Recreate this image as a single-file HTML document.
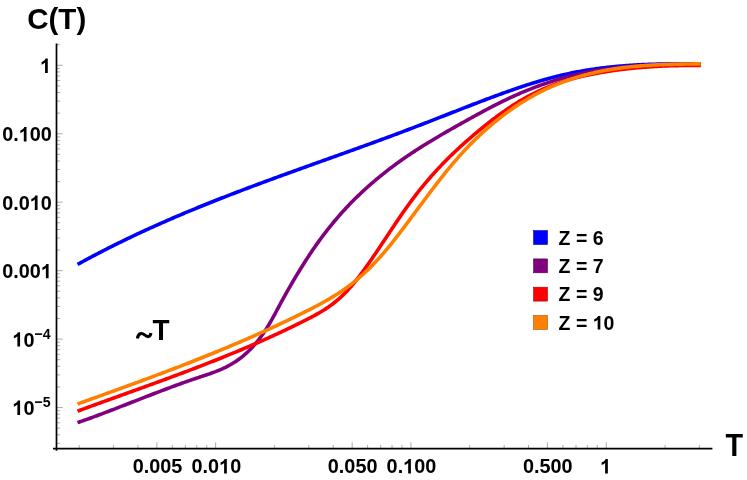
<!DOCTYPE html>
<html><head><meta charset="utf-8"><title>C(T)</title>
<style>
html,body{margin:0;padding:0;background:#fff;}
body{width:747px;height:480px;overflow:hidden;}
svg{display:block;will-change:transform;}
text{font-family:"Liberation Sans",sans-serif;font-weight:bold;fill:#000;}
</style></head><body>
<svg width="747" height="480" viewBox="0 0 747 480">
<rect width="747" height="480" fill="#fff"/>
<g fill="none" stroke-width="3.6" stroke-linejoin="round" stroke-linecap="butt">
<path stroke="#0000ff" d="M77.50 264.45 L78.75 263.77 L80.00 263.08 L81.25 262.40 L82.50 261.72 L83.75 261.04 L84.99 260.37 L86.24 259.69 L87.49 259.02 L88.74 258.35 L89.99 257.69 L91.24 257.02 L92.49 256.36 L93.74 255.70 L94.99 255.05 L96.24 254.39 L97.49 253.74 L98.73 253.09 L99.98 252.44 L101.23 251.80 L102.48 251.15 L103.73 250.51 L104.98 249.87 L106.23 249.24 L107.48 248.60 L108.73 247.97 L109.98 247.34 L111.23 246.71 L112.47 246.09 L113.72 245.46 L114.97 244.84 L116.22 244.22 L117.47 243.60 L118.72 242.99 L119.97 242.37 L121.22 241.76 L122.47 241.15 L123.72 240.54 L124.97 239.94 L126.21 239.34 L127.46 238.73 L128.71 238.13 L129.96 237.54 L131.21 236.94 L132.46 236.35 L133.71 235.75 L134.96 235.16 L136.21 234.58 L137.46 233.99 L138.71 233.40 L139.95 232.82 L141.20 232.24 L142.45 231.66 L143.70 231.08 L144.95 230.51 L146.20 229.93 L147.45 229.36 L148.70 228.79 L149.95 228.22 L151.20 227.66 L152.45 227.09 L153.69 226.53 L154.94 225.97 L156.19 225.41 L157.44 224.85 L158.69 224.29 L159.94 223.74 L161.19 223.18 L162.44 222.63 L163.69 222.08 L164.94 221.53 L166.19 220.99 L167.44 220.44 L168.68 219.90 L169.93 219.35 L171.18 218.81 L172.43 218.27 L173.68 217.74 L174.93 217.20 L176.18 216.66 L177.43 216.13 L178.68 215.60 L179.93 215.07 L181.18 214.54 L182.42 214.01 L183.67 213.49 L184.92 212.96 L186.17 212.44 L187.42 211.92 L188.67 211.39 L189.92 210.88 L191.17 210.36 L192.42 209.84 L193.67 209.33 L194.92 208.81 L196.16 208.30 L197.41 207.79 L198.66 207.28 L199.91 206.77 L201.16 206.26 L202.41 205.75 L203.66 205.25 L204.91 204.74 L206.16 204.24 L207.41 203.74 L208.66 203.24 L209.90 202.74 L211.15 202.24 L212.40 201.74 L213.65 201.25 L214.90 200.75 L216.15 200.26 L217.40 199.76 L218.65 199.27 L219.90 198.78 L221.15 198.29 L222.40 197.80 L223.64 197.32 L224.89 196.83 L226.14 196.34 L227.39 195.86 L228.64 195.37 L229.89 194.89 L231.14 194.41 L232.39 193.93 L233.64 193.45 L234.89 192.97 L236.14 192.49 L237.38 192.01 L238.63 191.54 L239.88 191.06 L241.13 190.59 L242.38 190.11 L243.63 189.64 L244.88 189.17 L246.13 188.70 L247.38 188.22 L248.63 187.75 L249.88 187.28 L251.12 186.82 L252.37 186.35 L253.62 185.88 L254.87 185.42 L256.12 184.95 L257.37 184.48 L258.62 184.02 L259.87 183.56 L261.12 183.09 L262.37 182.63 L263.62 182.17 L264.86 181.71 L266.11 181.25 L267.36 180.79 L268.61 180.33 L269.86 179.87 L271.11 179.41 L272.36 178.95 L273.61 178.50 L274.86 178.04 L276.11 177.58 L277.36 177.13 L278.60 176.67 L279.85 176.22 L281.10 175.76 L282.35 175.31 L283.60 174.85 L284.85 174.40 L286.10 173.95 L287.35 173.50 L288.60 173.04 L289.85 172.59 L291.10 172.14 L292.34 171.69 L293.59 171.24 L294.84 170.79 L296.09 170.34 L297.34 169.89 L298.59 169.44 L299.84 168.99 L301.09 168.54 L302.34 168.09 L303.59 167.64 L304.84 167.20 L306.08 166.75 L307.33 166.30 L308.58 165.85 L309.83 165.40 L311.08 164.96 L312.33 164.51 L313.58 164.06 L314.83 163.61 L316.08 163.17 L317.33 162.72 L318.58 162.27 L319.83 161.83 L321.07 161.38 L322.32 160.93 L323.57 160.49 L324.82 160.04 L326.07 159.59 L327.32 159.15 L328.57 158.70 L329.82 158.25 L331.07 157.81 L332.32 157.36 L333.57 156.91 L334.81 156.47 L336.06 156.02 L337.31 155.57 L338.56 155.13 L339.81 154.68 L341.06 154.23 L342.31 153.78 L343.56 153.34 L344.81 152.89 L346.06 152.44 L347.31 151.99 L348.55 151.54 L349.80 151.09 L351.05 150.64 L352.30 150.19 L353.55 149.75 L354.80 149.30 L356.05 148.85 L357.30 148.39 L358.55 147.94 L359.80 147.49 L361.05 147.04 L362.29 146.59 L363.54 146.14 L364.79 145.68 L366.04 145.23 L367.29 144.78 L368.54 144.32 L369.79 143.87 L371.04 143.42 L372.29 142.96 L373.54 142.50 L374.79 142.05 L376.03 141.59 L377.28 141.14 L378.53 140.68 L379.78 140.22 L381.03 139.76 L382.28 139.30 L383.53 138.84 L384.78 138.38 L386.03 137.92 L387.28 137.46 L388.53 137.00 L389.77 136.53 L391.02 136.07 L392.27 135.61 L393.52 135.14 L394.77 134.68 L396.02 134.21 L397.27 133.74 L398.52 133.28 L399.77 132.81 L401.02 132.34 L402.27 131.87 L403.51 131.40 L404.76 130.93 L406.01 130.46 L407.26 129.98 L408.51 129.51 L409.76 129.04 L411.01 128.56 L412.26 128.08 L413.51 127.61 L414.76 127.13 L416.01 126.65 L417.25 126.17 L418.50 125.69 L419.75 125.21 L421.00 124.73 L422.25 124.25 L423.50 123.76 L424.75 123.28 L426.00 122.79 L427.25 122.31 L428.50 121.82 L429.75 121.34 L430.99 120.85 L432.24 120.36 L433.49 119.88 L434.74 119.39 L435.99 118.90 L437.24 118.41 L438.49 117.92 L439.74 117.43 L440.99 116.94 L442.24 116.46 L443.49 115.97 L444.73 115.48 L445.98 114.99 L447.23 114.50 L448.48 114.01 L449.73 113.52 L450.98 113.03 L452.23 112.54 L453.48 112.05 L454.73 111.56 L455.98 111.07 L457.23 110.59 L458.47 110.10 L459.72 109.61 L460.97 109.12 L462.22 108.64 L463.47 108.15 L464.72 107.67 L465.97 107.18 L467.22 106.70 L468.47 106.21 L469.72 105.73 L470.97 105.25 L472.22 104.76 L473.46 104.28 L474.71 103.80 L475.96 103.32 L477.21 102.84 L478.46 102.37 L479.71 101.89 L480.96 101.41 L482.21 100.94 L483.46 100.46 L484.71 99.99 L485.96 99.52 L487.20 99.05 L488.45 98.58 L489.70 98.11 L490.95 97.64 L492.20 97.18 L493.45 96.71 L494.70 96.25 L495.95 95.79 L497.20 95.33 L498.45 94.87 L499.70 94.41 L500.94 93.96 L502.19 93.51 L503.44 93.06 L504.69 92.61 L505.94 92.16 L507.19 91.71 L508.44 91.27 L509.69 90.83 L510.94 90.39 L512.19 89.95 L513.44 89.52 L514.68 89.09 L515.93 88.66 L517.18 88.23 L518.43 87.81 L519.68 87.38 L520.93 86.96 L522.18 86.55 L523.43 86.13 L524.68 85.72 L525.93 85.32 L527.18 84.91 L528.42 84.51 L529.67 84.11 L530.92 83.72 L532.17 83.33 L533.42 82.94 L534.67 82.55 L535.92 82.17 L537.17 81.79 L538.42 81.42 L539.67 81.05 L540.92 80.68 L542.16 80.32 L543.41 79.96 L544.66 79.60 L545.91 79.25 L547.16 78.90 L548.41 78.56 L549.66 78.22 L550.91 77.88 L552.16 77.55 L553.41 77.23 L554.66 76.90 L555.90 76.59 L557.15 76.27 L558.40 75.96 L559.65 75.66 L560.90 75.36 L562.15 75.06 L563.40 74.78 L564.65 74.49 L565.90 74.21 L567.15 73.93 L568.40 73.66 L569.64 73.40 L570.89 73.13 L572.14 72.88 L573.39 72.62 L574.64 72.38 L575.89 72.13 L577.14 71.89 L578.39 71.66 L579.64 71.43 L580.89 71.20 L582.14 70.98 L583.38 70.76 L584.63 70.55 L585.88 70.34 L587.13 70.13 L588.38 69.93 L589.63 69.74 L590.88 69.54 L592.13 69.35 L593.38 69.17 L594.63 68.99 L595.88 68.81 L597.12 68.64 L598.37 68.47 L599.62 68.30 L600.87 68.14 L602.12 67.98 L603.37 67.83 L604.62 67.68 L605.87 67.53 L607.12 67.38 L608.37 67.24 L609.62 67.11 L610.86 66.97 L612.11 66.84 L613.36 66.72 L614.61 66.60 L615.86 66.48 L617.11 66.36 L618.36 66.25 L619.61 66.14 L620.86 66.03 L622.11 65.92 L623.36 65.82 L624.61 65.73 L625.85 65.63 L627.10 65.54 L628.35 65.45 L629.60 65.37 L630.85 65.28 L632.10 65.20 L633.35 65.13 L634.60 65.05 L635.85 64.98 L637.10 64.91 L638.35 64.85 L639.59 64.78 L640.84 64.72 L642.09 64.66 L643.34 64.61 L644.59 64.56 L645.84 64.50 L647.09 64.46 L648.34 64.41 L649.59 64.37 L650.84 64.33 L652.09 64.29 L653.33 64.25 L654.58 64.22 L655.83 64.18 L657.08 64.15 L658.33 64.13 L659.58 64.10 L660.83 64.08 L662.08 64.05 L663.33 64.03 L664.58 64.02 L665.83 64.00 L667.07 63.99 L668.32 63.97 L669.57 63.96 L670.82 63.96 L672.07 63.95 L673.32 63.94 L674.57 63.94 L675.82 63.94 L677.07 63.94 L678.32 63.94 L679.57 63.94 L680.81 63.94 L682.06 63.95 L683.31 63.96 L684.56 63.97 L685.81 63.98 L687.06 63.99 L688.31 64.00 L689.56 64.01 L690.81 64.03 L692.06 64.04 L693.31 64.06 L694.55 64.08 L695.80 64.10 L697.05 64.12 L698.30 64.14 L699.55 64.16 L700.80 64.18"/>
<path stroke="#800080" d="M77.50 422.67 L78.75 422.24 L80.00 421.80 L81.25 421.36 L82.50 420.92 L83.75 420.48 L84.99 420.04 L86.24 419.59 L87.49 419.14 L88.74 418.69 L89.99 418.23 L91.24 417.78 L92.49 417.32 L93.74 416.86 L94.99 416.40 L96.24 415.94 L97.49 415.48 L98.73 415.01 L99.98 414.54 L101.23 414.07 L102.48 413.60 L103.73 413.13 L104.98 412.66 L106.23 412.19 L107.48 411.71 L108.73 411.23 L109.98 410.76 L111.23 410.28 L112.47 409.80 L113.72 409.32 L114.97 408.84 L116.22 408.35 L117.47 407.87 L118.72 407.39 L119.97 406.90 L121.22 406.42 L122.47 405.93 L123.72 405.45 L124.97 404.96 L126.21 404.47 L127.46 403.99 L128.71 403.50 L129.96 403.01 L131.21 402.52 L132.46 402.04 L133.71 401.55 L134.96 401.06 L136.21 400.57 L137.46 400.08 L138.71 399.60 L139.95 399.11 L141.20 398.62 L142.45 398.13 L143.70 397.65 L144.95 397.16 L146.20 396.68 L147.45 396.19 L148.70 395.71 L149.95 395.22 L151.20 394.74 L152.45 394.26 L153.69 393.77 L154.94 393.29 L156.19 392.81 L157.44 392.33 L158.69 391.86 L159.94 391.38 L161.19 390.90 L162.44 390.43 L163.69 389.96 L164.94 389.48 L166.19 389.01 L167.44 388.54 L168.68 388.08 L169.93 387.61 L171.18 387.15 L172.43 386.68 L173.68 386.22 L174.93 385.76 L176.18 385.30 L177.43 384.85 L178.68 384.39 L179.93 383.94 L181.18 383.49 L182.42 383.04 L183.67 382.60 L184.92 382.15 L186.17 381.71 L187.42 381.27 L188.67 380.84 L189.92 380.40 L191.17 379.97 L192.42 379.54 L193.67 379.11 L194.92 378.69 L196.16 378.27 L197.41 377.85 L198.66 377.43 L199.91 377.02 L201.16 376.60 L202.41 376.19 L203.66 375.78 L204.91 375.37 L206.16 374.95 L207.41 374.54 L208.66 374.11 L209.90 373.68 L211.15 373.24 L212.40 372.80 L213.65 372.34 L214.90 371.88 L216.15 371.40 L217.40 370.91 L218.65 370.40 L219.90 369.88 L221.15 369.34 L222.40 368.79 L223.64 368.22 L224.89 367.62 L226.14 367.01 L227.39 366.37 L228.64 365.71 L229.89 365.03 L231.14 364.31 L232.39 363.58 L233.64 362.81 L234.89 362.02 L236.14 361.19 L237.38 360.33 L238.63 359.44 L239.88 358.52 L241.13 357.56 L242.38 356.57 L243.63 355.54 L244.88 354.47 L246.13 353.36 L247.38 352.21 L248.63 351.01 L249.88 349.78 L251.12 348.50 L252.37 347.17 L253.62 345.79 L254.87 344.37 L256.12 342.90 L257.37 341.38 L258.62 339.80 L259.87 338.17 L261.12 336.48 L262.37 334.74 L263.62 332.94 L264.86 331.08 L266.11 329.16 L267.36 327.18 L268.61 325.14 L269.86 323.03 L271.11 320.86 L272.36 318.64 L273.61 316.38 L274.86 314.09 L276.11 311.77 L277.36 309.43 L278.60 307.10 L279.85 304.76 L281.10 302.45 L282.35 300.15 L283.60 297.87 L284.85 295.62 L286.10 293.39 L287.35 291.17 L288.60 288.98 L289.85 286.80 L291.10 284.65 L292.34 282.51 L293.59 280.38 L294.84 278.28 L296.09 276.19 L297.34 274.11 L298.59 272.05 L299.84 270.01 L301.09 267.98 L302.34 265.97 L303.59 263.97 L304.84 262.00 L306.08 260.04 L307.33 258.11 L308.58 256.19 L309.83 254.30 L311.08 252.43 L312.33 250.57 L313.58 248.75 L314.83 246.94 L316.08 245.15 L317.33 243.39 L318.58 241.65 L319.83 239.92 L321.07 238.22 L322.32 236.54 L323.57 234.88 L324.82 233.23 L326.07 231.61 L327.32 230.01 L328.57 228.42 L329.82 226.85 L331.07 225.31 L332.32 223.78 L333.57 222.26 L334.81 220.77 L336.06 219.29 L337.31 217.83 L338.56 216.39 L339.81 214.96 L341.06 213.55 L342.31 212.16 L343.56 210.78 L344.81 209.42 L346.06 208.07 L347.31 206.74 L348.55 205.42 L349.80 204.12 L351.05 202.83 L352.30 201.56 L353.55 200.30 L354.80 199.05 L356.05 197.82 L357.30 196.60 L358.55 195.39 L359.80 194.20 L361.05 193.01 L362.29 191.84 L363.54 190.68 L364.79 189.54 L366.04 188.40 L367.29 187.28 L368.54 186.16 L369.79 185.06 L371.04 183.97 L372.29 182.88 L373.54 181.81 L374.79 180.75 L376.03 179.69 L377.28 178.65 L378.53 177.61 L379.78 176.59 L381.03 175.57 L382.28 174.56 L383.53 173.57 L384.78 172.58 L386.03 171.60 L387.28 170.62 L388.53 169.66 L389.77 168.70 L391.02 167.76 L392.27 166.82 L393.52 165.88 L394.77 164.96 L396.02 164.04 L397.27 163.14 L398.52 162.23 L399.77 161.34 L401.02 160.45 L402.27 159.57 L403.51 158.70 L404.76 157.83 L406.01 156.97 L407.26 156.12 L408.51 155.27 L409.76 154.43 L411.01 153.59 L412.26 152.77 L413.51 151.94 L414.76 151.12 L416.01 150.31 L417.25 149.50 L418.50 148.70 L419.75 147.90 L421.00 147.11 L422.25 146.33 L423.50 145.54 L424.75 144.77 L426.00 143.99 L427.25 143.22 L428.50 142.46 L429.75 141.70 L430.99 140.94 L432.24 140.19 L433.49 139.44 L434.74 138.69 L435.99 137.95 L437.24 137.21 L438.49 136.47 L439.74 135.74 L440.99 135.01 L442.24 134.28 L443.49 133.56 L444.73 132.84 L445.98 132.12 L447.23 131.40 L448.48 130.68 L449.73 129.97 L450.98 129.25 L452.23 128.54 L453.48 127.84 L454.73 127.13 L455.98 126.42 L457.23 125.72 L458.47 125.01 L459.72 124.31 L460.97 123.61 L462.22 122.90 L463.47 122.20 L464.72 121.50 L465.97 120.81 L467.22 120.11 L468.47 119.41 L469.72 118.72 L470.97 118.02 L472.22 117.33 L473.46 116.64 L474.71 115.96 L475.96 115.27 L477.21 114.59 L478.46 113.91 L479.71 113.23 L480.96 112.55 L482.21 111.88 L483.46 111.21 L484.71 110.54 L485.96 109.88 L487.20 109.22 L488.45 108.56 L489.70 107.91 L490.95 107.25 L492.20 106.61 L493.45 105.96 L494.70 105.32 L495.95 104.69 L497.20 104.06 L498.45 103.43 L499.70 102.80 L500.94 102.19 L502.19 101.57 L503.44 100.96 L504.69 100.36 L505.94 99.76 L507.19 99.16 L508.44 98.57 L509.69 97.98 L510.94 97.40 L512.19 96.83 L513.44 96.26 L514.68 95.70 L515.93 95.14 L517.18 94.59 L518.43 94.04 L519.68 93.50 L520.93 92.96 L522.18 92.43 L523.43 91.90 L524.68 91.38 L525.93 90.86 L527.18 90.35 L528.42 89.85 L529.67 89.35 L530.92 88.85 L532.17 88.36 L533.42 87.88 L534.67 87.40 L535.92 86.93 L537.17 86.46 L538.42 86.00 L539.67 85.54 L540.92 85.09 L542.16 84.65 L543.41 84.21 L544.66 83.77 L545.91 83.34 L547.16 82.92 L548.41 82.50 L549.66 82.09 L550.91 81.68 L552.16 81.28 L553.41 80.88 L554.66 80.49 L555.90 80.10 L557.15 79.72 L558.40 79.35 L559.65 78.98 L560.90 78.61 L562.15 78.26 L563.40 77.90 L564.65 77.56 L565.90 77.22 L567.15 76.88 L568.40 76.55 L569.64 76.22 L570.89 75.90 L572.14 75.59 L573.39 75.28 L574.64 74.98 L575.89 74.68 L577.14 74.39 L578.39 74.10 L579.64 73.82 L580.89 73.55 L582.14 73.28 L583.38 73.01 L584.63 72.75 L585.88 72.50 L587.13 72.25 L588.38 72.01 L589.63 71.77 L590.88 71.54 L592.13 71.31 L593.38 71.08 L594.63 70.86 L595.88 70.65 L597.12 70.44 L598.37 70.23 L599.62 70.03 L600.87 69.84 L602.12 69.64 L603.37 69.46 L604.62 69.27 L605.87 69.10 L607.12 68.92 L608.37 68.75 L609.62 68.58 L610.86 68.42 L612.11 68.26 L613.36 68.11 L614.61 67.96 L615.86 67.81 L617.11 67.67 L618.36 67.53 L619.61 67.40 L620.86 67.27 L622.11 67.14 L623.36 67.01 L624.61 66.89 L625.85 66.78 L627.10 66.66 L628.35 66.55 L629.60 66.44 L630.85 66.34 L632.10 66.24 L633.35 66.14 L634.60 66.04 L635.85 65.95 L637.10 65.86 L638.35 65.77 L639.59 65.69 L640.84 65.61 L642.09 65.53 L643.34 65.45 L644.59 65.38 L645.84 65.31 L647.09 65.24 L648.34 65.18 L649.59 65.11 L650.84 65.05 L652.09 64.99 L653.33 64.93 L654.58 64.88 L655.83 64.83 L657.08 64.78 L658.33 64.73 L659.58 64.68 L660.83 64.63 L662.08 64.59 L663.33 64.55 L664.58 64.51 L665.83 64.47 L667.07 64.43 L668.32 64.40 L669.57 64.36 L670.82 64.33 L672.07 64.30 L673.32 64.27 L674.57 64.24 L675.82 64.21 L677.07 64.19 L678.32 64.16 L679.57 64.14 L680.81 64.11 L682.06 64.09 L683.31 64.07 L684.56 64.05 L685.81 64.03 L687.06 64.01 L688.31 63.99 L689.56 63.97 L690.81 63.95 L692.06 63.93 L693.31 63.91 L694.55 63.90 L695.80 63.88 L697.05 63.86 L698.30 63.85 L699.55 63.83 L700.80 63.81"/>
<path stroke="#ff0000" d="M77.50 411.15 L78.75 410.69 L80.00 410.23 L81.25 409.78 L82.50 409.32 L83.75 408.86 L84.99 408.40 L86.24 407.95 L87.49 407.49 L88.74 407.03 L89.99 406.58 L91.24 406.12 L92.49 405.67 L93.74 405.21 L94.99 404.76 L96.24 404.31 L97.49 403.85 L98.73 403.40 L99.98 402.95 L101.23 402.50 L102.48 402.05 L103.73 401.59 L104.98 401.14 L106.23 400.69 L107.48 400.24 L108.73 399.79 L109.98 399.34 L111.23 398.89 L112.47 398.44 L113.72 397.99 L114.97 397.54 L116.22 397.09 L117.47 396.64 L118.72 396.19 L119.97 395.74 L121.22 395.29 L122.47 394.84 L123.72 394.39 L124.97 393.95 L126.21 393.50 L127.46 393.05 L128.71 392.60 L129.96 392.15 L131.21 391.70 L132.46 391.25 L133.71 390.80 L134.96 390.35 L136.21 389.90 L137.46 389.45 L138.71 389.00 L139.95 388.55 L141.20 388.09 L142.45 387.64 L143.70 387.19 L144.95 386.74 L146.20 386.29 L147.45 385.84 L148.70 385.38 L149.95 384.93 L151.20 384.48 L152.45 384.02 L153.69 383.57 L154.94 383.11 L156.19 382.66 L157.44 382.20 L158.69 381.75 L159.94 381.29 L161.19 380.83 L162.44 380.37 L163.69 379.92 L164.94 379.46 L166.19 379.00 L167.44 378.54 L168.68 378.08 L169.93 377.62 L171.18 377.16 L172.43 376.69 L173.68 376.23 L174.93 375.77 L176.18 375.30 L177.43 374.84 L178.68 374.37 L179.93 373.90 L181.18 373.44 L182.42 372.97 L183.67 372.50 L184.92 372.03 L186.17 371.56 L187.42 371.09 L188.67 370.62 L189.92 370.14 L191.17 369.67 L192.42 369.19 L193.67 368.72 L194.92 368.24 L196.16 367.76 L197.41 367.28 L198.66 366.80 L199.91 366.32 L201.16 365.84 L202.41 365.36 L203.66 364.87 L204.91 364.39 L206.16 363.90 L207.41 363.41 L208.66 362.92 L209.90 362.43 L211.15 361.94 L212.40 361.45 L213.65 360.96 L214.90 360.46 L216.15 359.97 L217.40 359.47 L218.65 358.97 L219.90 358.47 L221.15 357.97 L222.40 357.47 L223.64 356.96 L224.89 356.46 L226.14 355.95 L227.39 355.44 L228.64 354.93 L229.89 354.42 L231.14 353.91 L232.39 353.40 L233.64 352.88 L234.89 352.37 L236.14 351.85 L237.38 351.33 L238.63 350.81 L239.88 350.28 L241.13 349.76 L242.38 349.23 L243.63 348.70 L244.88 348.18 L246.13 347.64 L247.38 347.11 L248.63 346.58 L249.88 346.04 L251.12 345.50 L252.37 344.96 L253.62 344.42 L254.87 343.88 L256.12 343.33 L257.37 342.79 L258.62 342.24 L259.87 341.69 L261.12 341.14 L262.37 340.58 L263.62 340.03 L264.86 339.47 L266.11 338.91 L267.36 338.35 L268.61 337.78 L269.86 337.22 L271.11 336.65 L272.36 336.08 L273.61 335.51 L274.86 334.94 L276.11 334.36 L277.36 333.78 L278.60 333.20 L279.85 332.62 L281.10 332.04 L282.35 331.45 L283.60 330.86 L284.85 330.27 L286.10 329.68 L287.35 329.08 L288.60 328.49 L289.85 327.89 L291.10 327.28 L292.34 326.68 L293.59 326.07 L294.84 325.47 L296.09 324.85 L297.34 324.24 L298.59 323.63 L299.84 323.01 L301.09 322.39 L302.34 321.76 L303.59 321.14 L304.84 320.51 L306.08 319.88 L307.33 319.25 L308.58 318.61 L309.83 317.97 L311.08 317.32 L312.33 316.66 L313.58 316.00 L314.83 315.32 L316.08 314.64 L317.33 313.94 L318.58 313.23 L319.83 312.50 L321.07 311.76 L322.32 311.00 L323.57 310.23 L324.82 309.44 L326.07 308.62 L327.32 307.79 L328.57 306.93 L329.82 306.05 L331.07 305.15 L332.32 304.22 L333.57 303.27 L334.81 302.28 L336.06 301.27 L337.31 300.23 L338.56 299.15 L339.81 298.05 L341.06 296.91 L342.31 295.74 L343.56 294.53 L344.81 293.28 L346.06 292.00 L347.31 290.68 L348.55 289.32 L349.80 287.92 L351.05 286.49 L352.30 285.02 L353.55 283.52 L354.80 282.00 L356.05 280.44 L357.30 278.85 L358.55 277.24 L359.80 275.60 L361.05 273.94 L362.29 272.26 L363.54 270.55 L364.79 268.83 L366.04 267.09 L367.29 265.34 L368.54 263.56 L369.79 261.78 L371.04 259.98 L372.29 258.17 L373.54 256.34 L374.79 254.51 L376.03 252.67 L377.28 250.82 L378.53 248.96 L379.78 247.09 L381.03 245.22 L382.28 243.35 L383.53 241.47 L384.78 239.59 L386.03 237.71 L387.28 235.83 L388.53 233.95 L389.77 232.07 L391.02 230.19 L392.27 228.32 L393.52 226.45 L394.77 224.58 L396.02 222.73 L397.27 220.88 L398.52 219.04 L399.77 217.21 L401.02 215.39 L402.27 213.58 L403.51 211.78 L404.76 210.00 L406.01 208.23 L407.26 206.48 L408.51 204.74 L409.76 203.02 L411.01 201.32 L412.26 199.64 L413.51 197.98 L414.76 196.33 L416.01 194.71 L417.25 193.10 L418.50 191.51 L419.75 189.94 L421.00 188.38 L422.25 186.85 L423.50 185.33 L424.75 183.82 L426.00 182.33 L427.25 180.86 L428.50 179.40 L429.75 177.96 L430.99 176.53 L432.24 175.12 L433.49 173.72 L434.74 172.34 L435.99 170.97 L437.24 169.62 L438.49 168.28 L439.74 166.95 L440.99 165.63 L442.24 164.33 L443.49 163.04 L444.73 161.77 L445.98 160.50 L447.23 159.25 L448.48 158.01 L449.73 156.77 L450.98 155.55 L452.23 154.35 L453.48 153.15 L454.73 151.96 L455.98 150.78 L457.23 149.61 L458.47 148.45 L459.72 147.30 L460.97 146.16 L462.22 145.03 L463.47 143.90 L464.72 142.79 L465.97 141.68 L467.22 140.58 L468.47 139.49 L469.72 138.40 L470.97 137.32 L472.22 136.25 L473.46 135.18 L474.71 134.12 L475.96 133.07 L477.21 132.02 L478.46 130.98 L479.71 129.94 L480.96 128.92 L482.21 127.90 L483.46 126.88 L484.71 125.88 L485.96 124.88 L487.20 123.89 L488.45 122.90 L489.70 121.93 L490.95 120.96 L492.20 120.00 L493.45 119.05 L494.70 118.10 L495.95 117.17 L497.20 116.24 L498.45 115.32 L499.70 114.41 L500.94 113.51 L502.19 112.62 L503.44 111.74 L504.69 110.87 L505.94 110.00 L507.19 109.15 L508.44 108.30 L509.69 107.47 L510.94 106.64 L512.19 105.83 L513.44 105.02 L514.68 104.23 L515.93 103.45 L517.18 102.67 L518.43 101.91 L519.68 101.16 L520.93 100.41 L522.18 99.68 L523.43 98.97 L524.68 98.26 L525.93 97.56 L527.18 96.88 L528.42 96.20 L529.67 95.54 L530.92 94.89 L532.17 94.25 L533.42 93.62 L534.67 93.00 L535.92 92.39 L537.17 91.80 L538.42 91.21 L539.67 90.63 L540.92 90.07 L542.16 89.51 L543.41 88.97 L544.66 88.43 L545.91 87.90 L547.16 87.39 L548.41 86.88 L549.66 86.38 L550.91 85.89 L552.16 85.41 L553.41 84.94 L554.66 84.48 L555.90 84.03 L557.15 83.58 L558.40 83.15 L559.65 82.72 L560.90 82.30 L562.15 81.89 L563.40 81.49 L564.65 81.09 L565.90 80.70 L567.15 80.32 L568.40 79.95 L569.64 79.59 L570.89 79.23 L572.14 78.88 L573.39 78.54 L574.64 78.20 L575.89 77.87 L577.14 77.55 L578.39 77.23 L579.64 76.93 L580.89 76.62 L582.14 76.33 L583.38 76.04 L584.63 75.75 L585.88 75.47 L587.13 75.20 L588.38 74.93 L589.63 74.67 L590.88 74.41 L592.13 74.16 L593.38 73.91 L594.63 73.67 L595.88 73.44 L597.12 73.21 L598.37 72.98 L599.62 72.76 L600.87 72.54 L602.12 72.32 L603.37 72.12 L604.62 71.91 L605.87 71.71 L607.12 71.51 L608.37 71.32 L609.62 71.13 L610.86 70.94 L612.11 70.76 L613.36 70.58 L614.61 70.40 L615.86 70.23 L617.11 70.06 L618.36 69.89 L619.61 69.73 L620.86 69.57 L622.11 69.42 L623.36 69.27 L624.61 69.12 L625.85 68.98 L627.10 68.83 L628.35 68.70 L629.60 68.56 L630.85 68.43 L632.10 68.30 L633.35 68.17 L634.60 68.05 L635.85 67.93 L637.10 67.82 L638.35 67.71 L639.59 67.60 L640.84 67.49 L642.09 67.39 L643.34 67.28 L644.59 67.19 L645.84 67.09 L647.09 67.00 L648.34 66.91 L649.59 66.83 L650.84 66.74 L652.09 66.66 L653.33 66.59 L654.58 66.51 L655.83 66.44 L657.08 66.37 L658.33 66.30 L659.58 66.24 L660.83 66.18 L662.08 66.12 L663.33 66.06 L664.58 66.01 L665.83 65.96 L667.07 65.91 L668.32 65.86 L669.57 65.82 L670.82 65.78 L672.07 65.74 L673.32 65.71 L674.57 65.67 L675.82 65.64 L677.07 65.61 L678.32 65.58 L679.57 65.56 L680.81 65.54 L682.06 65.52 L683.31 65.50 L684.56 65.48 L685.81 65.47 L687.06 65.46 L688.31 65.45 L689.56 65.44 L690.81 65.44 L692.06 65.44 L693.31 65.43 L694.55 65.43 L695.80 65.44 L697.05 65.44 L698.30 65.45 L699.55 65.46 L700.80 65.47"/>
<path stroke="#ff8000" d="M77.50 404.00 L78.75 403.55 L80.00 403.10 L81.25 402.65 L82.50 402.20 L83.75 401.75 L84.99 401.31 L86.24 400.86 L87.49 400.41 L88.74 399.96 L89.99 399.51 L91.24 399.06 L92.49 398.61 L93.74 398.17 L94.99 397.72 L96.24 397.27 L97.49 396.82 L98.73 396.37 L99.98 395.92 L101.23 395.47 L102.48 395.02 L103.73 394.57 L104.98 394.12 L106.23 393.67 L107.48 393.22 L108.73 392.77 L109.98 392.32 L111.23 391.87 L112.47 391.42 L113.72 390.96 L114.97 390.51 L116.22 390.06 L117.47 389.61 L118.72 389.15 L119.97 388.70 L121.22 388.25 L122.47 387.79 L123.72 387.34 L124.97 386.89 L126.21 386.43 L127.46 385.98 L128.71 385.52 L129.96 385.06 L131.21 384.61 L132.46 384.15 L133.71 383.69 L134.96 383.23 L136.21 382.78 L137.46 382.32 L138.71 381.86 L139.95 381.40 L141.20 380.94 L142.45 380.48 L143.70 380.02 L144.95 379.55 L146.20 379.09 L147.45 378.63 L148.70 378.16 L149.95 377.70 L151.20 377.24 L152.45 376.77 L153.69 376.30 L154.94 375.84 L156.19 375.37 L157.44 374.90 L158.69 374.43 L159.94 373.96 L161.19 373.49 L162.44 373.02 L163.69 372.55 L164.94 372.08 L166.19 371.61 L167.44 371.13 L168.68 370.66 L169.93 370.18 L171.18 369.71 L172.43 369.23 L173.68 368.75 L174.93 368.28 L176.18 367.80 L177.43 367.32 L178.68 366.84 L179.93 366.36 L181.18 365.87 L182.42 365.39 L183.67 364.91 L184.92 364.42 L186.17 363.93 L187.42 363.45 L188.67 362.96 L189.92 362.47 L191.17 361.98 L192.42 361.49 L193.67 361.00 L194.92 360.51 L196.16 360.01 L197.41 359.52 L198.66 359.02 L199.91 358.52 L201.16 358.03 L202.41 357.53 L203.66 357.03 L204.91 356.53 L206.16 356.03 L207.41 355.52 L208.66 355.02 L209.90 354.51 L211.15 354.01 L212.40 353.50 L213.65 352.99 L214.90 352.48 L216.15 351.97 L217.40 351.46 L218.65 350.94 L219.90 350.43 L221.15 349.91 L222.40 349.39 L223.64 348.88 L224.89 348.36 L226.14 347.84 L227.39 347.31 L228.64 346.79 L229.89 346.26 L231.14 345.74 L232.39 345.21 L233.64 344.68 L234.89 344.15 L236.14 343.62 L237.38 343.09 L238.63 342.55 L239.88 342.02 L241.13 341.48 L242.38 340.94 L243.63 340.40 L244.88 339.86 L246.13 339.32 L247.38 338.78 L248.63 338.23 L249.88 337.68 L251.12 337.13 L252.37 336.58 L253.62 336.03 L254.87 335.48 L256.12 334.92 L257.37 334.37 L258.62 333.81 L259.87 333.25 L261.12 332.69 L262.37 332.13 L263.62 331.56 L264.86 331.00 L266.11 330.43 L267.36 329.86 L268.61 329.29 L269.86 328.72 L271.11 328.15 L272.36 327.57 L273.61 326.99 L274.86 326.41 L276.11 325.83 L277.36 325.25 L278.60 324.67 L279.85 324.08 L281.10 323.49 L282.35 322.90 L283.60 322.31 L284.85 321.72 L286.10 321.13 L287.35 320.53 L288.60 319.93 L289.85 319.33 L291.10 318.73 L292.34 318.12 L293.59 317.52 L294.84 316.91 L296.09 316.30 L297.34 315.69 L298.59 315.08 L299.84 314.46 L301.09 313.84 L302.34 313.23 L303.59 312.60 L304.84 311.98 L306.08 311.36 L307.33 310.73 L308.58 310.10 L309.83 309.47 L311.08 308.83 L312.33 308.19 L313.58 307.55 L314.83 306.90 L316.08 306.25 L317.33 305.59 L318.58 304.92 L319.83 304.25 L321.07 303.57 L322.32 302.89 L323.57 302.20 L324.82 301.50 L326.07 300.79 L327.32 300.08 L328.57 299.35 L329.82 298.62 L331.07 297.88 L332.32 297.12 L333.57 296.36 L334.81 295.58 L336.06 294.80 L337.31 294.00 L338.56 293.19 L339.81 292.37 L341.06 291.53 L342.31 290.68 L343.56 289.82 L344.81 288.95 L346.06 288.06 L347.31 287.15 L348.55 286.23 L349.80 285.29 L351.05 284.34 L352.30 283.37 L353.55 282.39 L354.80 281.39 L356.05 280.37 L357.30 279.33 L358.55 278.27 L359.80 277.20 L361.05 276.10 L362.29 274.99 L363.54 273.86 L364.79 272.70 L366.04 271.53 L367.29 270.34 L368.54 269.13 L369.79 267.90 L371.04 266.65 L372.29 265.38 L373.54 264.09 L374.79 262.78 L376.03 261.45 L377.28 260.11 L378.53 258.74 L379.78 257.36 L381.03 255.95 L382.28 254.53 L383.53 253.09 L384.78 251.63 L386.03 250.15 L387.28 248.65 L388.53 247.14 L389.77 245.61 L391.02 244.07 L392.27 242.51 L393.52 240.94 L394.77 239.36 L396.02 237.76 L397.27 236.16 L398.52 234.54 L399.77 232.92 L401.02 231.28 L402.27 229.64 L403.51 227.99 L404.76 226.33 L406.01 224.67 L407.26 223.00 L408.51 221.33 L409.76 219.65 L411.01 217.97 L412.26 216.29 L413.51 214.61 L414.76 212.92 L416.01 211.24 L417.25 209.55 L418.50 207.87 L419.75 206.19 L421.00 204.51 L422.25 202.83 L423.50 201.15 L424.75 199.48 L426.00 197.81 L427.25 196.14 L428.50 194.48 L429.75 192.82 L430.99 191.17 L432.24 189.53 L433.49 187.89 L434.74 186.26 L435.99 184.63 L437.24 183.01 L438.49 181.40 L439.74 179.80 L440.99 178.21 L442.24 176.63 L443.49 175.06 L444.73 173.49 L445.98 171.94 L447.23 170.40 L448.48 168.88 L449.73 167.36 L450.98 165.86 L452.23 164.37 L453.48 162.89 L454.73 161.43 L455.98 159.99 L457.23 158.56 L458.47 157.14 L459.72 155.74 L460.97 154.35 L462.22 152.98 L463.47 151.62 L464.72 150.28 L465.97 148.95 L467.22 147.64 L468.47 146.34 L469.72 145.05 L470.97 143.78 L472.22 142.52 L473.46 141.28 L474.71 140.05 L475.96 138.83 L477.21 137.63 L478.46 136.43 L479.71 135.25 L480.96 134.09 L482.21 132.94 L483.46 131.80 L484.71 130.67 L485.96 129.55 L487.20 128.45 L488.45 127.36 L489.70 126.28 L490.95 125.21 L492.20 124.15 L493.45 123.11 L494.70 122.08 L495.95 121.06 L497.20 120.05 L498.45 119.05 L499.70 118.06 L500.94 117.09 L502.19 116.12 L503.44 115.17 L504.69 114.23 L505.94 113.30 L507.19 112.38 L508.44 111.47 L509.69 110.58 L510.94 109.69 L512.19 108.82 L513.44 107.96 L514.68 107.10 L515.93 106.26 L517.18 105.43 L518.43 104.61 L519.68 103.81 L520.93 103.01 L522.18 102.22 L523.43 101.45 L524.68 100.68 L525.93 99.93 L527.18 99.18 L528.42 98.45 L529.67 97.73 L530.92 97.01 L532.17 96.31 L533.42 95.62 L534.67 94.94 L535.92 94.26 L537.17 93.60 L538.42 92.95 L539.67 92.31 L540.92 91.68 L542.16 91.05 L543.41 90.44 L544.66 89.84 L545.91 89.24 L547.16 88.66 L548.41 88.08 L549.66 87.51 L550.91 86.96 L552.16 86.41 L553.41 85.87 L554.66 85.34 L555.90 84.82 L557.15 84.31 L558.40 83.80 L559.65 83.31 L560.90 82.82 L562.15 82.34 L563.40 81.87 L564.65 81.41 L565.90 80.96 L567.15 80.51 L568.40 80.07 L569.64 79.64 L570.89 79.22 L572.14 78.81 L573.39 78.40 L574.64 78.01 L575.89 77.62 L577.14 77.23 L578.39 76.86 L579.64 76.49 L580.89 76.13 L582.14 75.77 L583.38 75.43 L584.63 75.09 L585.88 74.76 L587.13 74.43 L588.38 74.11 L589.63 73.80 L590.88 73.50 L592.13 73.20 L593.38 72.91 L594.63 72.62 L595.88 72.34 L597.12 72.07 L598.37 71.80 L599.62 71.54 L600.87 71.29 L602.12 71.04 L603.37 70.80 L604.62 70.56 L605.87 70.33 L607.12 70.10 L608.37 69.88 L609.62 69.67 L610.86 69.46 L612.11 69.26 L613.36 69.06 L614.61 68.87 L615.86 68.68 L617.11 68.50 L618.36 68.32 L619.61 68.15 L620.86 67.98 L622.11 67.82 L623.36 67.66 L624.61 67.51 L625.85 67.36 L627.10 67.21 L628.35 67.07 L629.60 66.94 L630.85 66.80 L632.10 66.68 L633.35 66.55 L634.60 66.43 L635.85 66.32 L637.10 66.21 L638.35 66.10 L639.59 65.99 L640.84 65.89 L642.09 65.80 L643.34 65.70 L644.59 65.61 L645.84 65.53 L647.09 65.44 L648.34 65.36 L649.59 65.28 L650.84 65.21 L652.09 65.14 L653.33 65.07 L654.58 65.00 L655.83 64.94 L657.08 64.88 L658.33 64.82 L659.58 64.77 L660.83 64.71 L662.08 64.66 L663.33 64.61 L664.58 64.57 L665.83 64.52 L667.07 64.48 L668.32 64.44 L669.57 64.40 L670.82 64.37 L672.07 64.33 L673.32 64.30 L674.57 64.27 L675.82 64.24 L677.07 64.21 L678.32 64.18 L679.57 64.15 L680.81 64.13 L682.06 64.10 L683.31 64.08 L684.56 64.06 L685.81 64.04 L687.06 64.01 L688.31 63.99 L689.56 63.98 L690.81 63.96 L692.06 63.94 L693.31 63.92 L694.55 63.90 L695.80 63.88 L697.05 63.87 L698.30 63.85 L699.55 63.83 L700.80 63.82"/>
</g>
<g stroke="#000" stroke-width="0.45" stroke-opacity="0.75">
<line x1="79.14" y1="448.55" x2="79.14" y2="444.95"/>
<line x1="113.53" y1="448.55" x2="113.53" y2="444.95"/>
<line x1="137.93" y1="448.55" x2="137.93" y2="444.95"/>
<line x1="156.86" y1="448.55" x2="156.86" y2="442.25"/>
<line x1="172.32" y1="448.55" x2="172.32" y2="444.95"/>
<line x1="185.40" y1="448.55" x2="185.40" y2="444.95"/>
<line x1="196.72" y1="448.55" x2="196.72" y2="444.95"/>
<line x1="206.71" y1="448.55" x2="206.71" y2="444.95"/>
<line x1="215.65" y1="448.55" x2="215.65" y2="442.25"/>
<line x1="274.44" y1="448.55" x2="274.44" y2="444.95"/>
<line x1="308.83" y1="448.55" x2="308.83" y2="444.95"/>
<line x1="333.23" y1="448.55" x2="333.23" y2="444.95"/>
<line x1="352.16" y1="448.55" x2="352.16" y2="442.25"/>
<line x1="367.62" y1="448.55" x2="367.62" y2="444.95"/>
<line x1="380.70" y1="448.55" x2="380.70" y2="444.95"/>
<line x1="392.02" y1="448.55" x2="392.02" y2="444.95"/>
<line x1="402.01" y1="448.55" x2="402.01" y2="444.95"/>
<line x1="410.95" y1="448.55" x2="410.95" y2="442.25"/>
<line x1="469.74" y1="448.55" x2="469.74" y2="444.95"/>
<line x1="504.13" y1="448.55" x2="504.13" y2="444.95"/>
<line x1="528.53" y1="448.55" x2="528.53" y2="444.95"/>
<line x1="547.46" y1="448.55" x2="547.46" y2="442.25"/>
<line x1="562.92" y1="448.55" x2="562.92" y2="444.95"/>
<line x1="576.00" y1="448.55" x2="576.00" y2="444.95"/>
<line x1="587.32" y1="448.55" x2="587.32" y2="444.95"/>
<line x1="597.31" y1="448.55" x2="597.31" y2="444.95"/>
<line x1="606.25" y1="448.55" x2="606.25" y2="442.25"/>
<line x1="665.04" y1="448.55" x2="665.04" y2="444.95"/>
<line x1="699.43" y1="448.55" x2="699.43" y2="444.95"/>
<line x1="56.50" y1="443.34" x2="60.10" y2="443.34"/>
<line x1="56.50" y1="434.79" x2="60.10" y2="434.79"/>
<line x1="56.50" y1="428.16" x2="60.10" y2="428.16"/>
<line x1="56.50" y1="422.74" x2="60.10" y2="422.74"/>
<line x1="56.50" y1="418.15" x2="60.10" y2="418.15"/>
<line x1="56.50" y1="414.18" x2="60.10" y2="414.18"/>
<line x1="56.50" y1="410.68" x2="60.10" y2="410.68"/>
<line x1="56.50" y1="407.55" x2="62.80" y2="407.55"/>
<line x1="56.50" y1="386.94" x2="60.10" y2="386.94"/>
<line x1="56.50" y1="374.89" x2="60.10" y2="374.89"/>
<line x1="56.50" y1="366.34" x2="60.10" y2="366.34"/>
<line x1="56.50" y1="359.71" x2="60.10" y2="359.71"/>
<line x1="56.50" y1="354.29" x2="60.10" y2="354.29"/>
<line x1="56.50" y1="349.70" x2="60.10" y2="349.70"/>
<line x1="56.50" y1="345.73" x2="60.10" y2="345.73"/>
<line x1="56.50" y1="342.23" x2="60.10" y2="342.23"/>
<line x1="56.50" y1="339.10" x2="62.80" y2="339.10"/>
<line x1="56.50" y1="318.49" x2="60.10" y2="318.49"/>
<line x1="56.50" y1="306.44" x2="60.10" y2="306.44"/>
<line x1="56.50" y1="297.89" x2="60.10" y2="297.89"/>
<line x1="56.50" y1="291.26" x2="60.10" y2="291.26"/>
<line x1="56.50" y1="285.84" x2="60.10" y2="285.84"/>
<line x1="56.50" y1="281.25" x2="60.10" y2="281.25"/>
<line x1="56.50" y1="277.28" x2="60.10" y2="277.28"/>
<line x1="56.50" y1="273.78" x2="60.10" y2="273.78"/>
<line x1="56.50" y1="270.65" x2="62.80" y2="270.65"/>
<line x1="56.50" y1="250.04" x2="60.10" y2="250.04"/>
<line x1="56.50" y1="237.99" x2="60.10" y2="237.99"/>
<line x1="56.50" y1="229.44" x2="60.10" y2="229.44"/>
<line x1="56.50" y1="222.81" x2="60.10" y2="222.81"/>
<line x1="56.50" y1="217.39" x2="60.10" y2="217.39"/>
<line x1="56.50" y1="212.80" x2="60.10" y2="212.80"/>
<line x1="56.50" y1="208.83" x2="60.10" y2="208.83"/>
<line x1="56.50" y1="205.33" x2="60.10" y2="205.33"/>
<line x1="56.50" y1="202.20" x2="62.80" y2="202.20"/>
<line x1="56.50" y1="181.59" x2="60.10" y2="181.59"/>
<line x1="56.50" y1="169.54" x2="60.10" y2="169.54"/>
<line x1="56.50" y1="160.99" x2="60.10" y2="160.99"/>
<line x1="56.50" y1="154.36" x2="60.10" y2="154.36"/>
<line x1="56.50" y1="148.94" x2="60.10" y2="148.94"/>
<line x1="56.50" y1="144.35" x2="60.10" y2="144.35"/>
<line x1="56.50" y1="140.38" x2="60.10" y2="140.38"/>
<line x1="56.50" y1="136.88" x2="60.10" y2="136.88"/>
<line x1="56.50" y1="133.75" x2="62.80" y2="133.75"/>
<line x1="56.50" y1="113.14" x2="60.10" y2="113.14"/>
<line x1="56.50" y1="101.09" x2="60.10" y2="101.09"/>
<line x1="56.50" y1="92.54" x2="60.10" y2="92.54"/>
<line x1="56.50" y1="85.91" x2="60.10" y2="85.91"/>
<line x1="56.50" y1="80.49" x2="60.10" y2="80.49"/>
<line x1="56.50" y1="75.90" x2="60.10" y2="75.90"/>
<line x1="56.50" y1="71.93" x2="60.10" y2="71.93"/>
<line x1="56.50" y1="68.43" x2="60.10" y2="68.43"/>
<line x1="56.50" y1="65.30" x2="62.80" y2="65.30"/>
<line x1="56.50" y1="44.69" x2="60.10" y2="44.69"/>
</g>
<g stroke="#000" stroke-width="1.7">
<line x1="56.5" y1="450.65000000000003" x2="56.5" y2="43.6"/>
<line x1="53.0" y1="448.55" x2="712.4" y2="448.55"/>
</g>
<text transform="translate(132.63 473.40) scale(0.945 1)" text-anchor="start" font-size="21">0.005</text>
<text transform="translate(191.52 473.40) scale(0.945 1)" text-anchor="start" font-size="21">0.0</text>
<path transform="translate(219.11 473.40) scale(0.00969 -0.00986)" d="M797 0H516V1059Q362 915 153 846V1101Q263 1137 392 1237.5Q521 1338 569 1466H797Z" fill="#000"/>
<text transform="translate(230.14 473.40) scale(0.945 1)" text-anchor="start" font-size="21">0</text>
<text transform="translate(327.83 473.40) scale(0.945 1)" text-anchor="start" font-size="21">0.050</text>
<text transform="translate(386.62 473.40) scale(0.945 1)" text-anchor="start" font-size="21">0.</text>
<path transform="translate(403.17 473.40) scale(0.00969 -0.00986)" d="M797 0H516V1059Q362 915 153 846V1101Q263 1137 392 1237.5Q521 1338 569 1466H797Z" fill="#000"/>
<text transform="translate(414.21 473.40) scale(0.945 1)" text-anchor="start" font-size="21">00</text>
<text transform="translate(522.93 473.40) scale(0.945 1)" text-anchor="start" font-size="21">0.500</text>
<path transform="translate(600.13 473.40) scale(0.00969 -0.00986)" d="M797 0H516V1059Q362 915 153 846V1101Q263 1137 392 1237.5Q521 1338 569 1466H797Z" fill="#000"/>
<path transform="translate(40.07 73.00) scale(0.00969 -0.00986)" d="M797 0H516V1059Q362 915 153 846V1101Q263 1137 392 1237.5Q521 1338 569 1466H797Z" fill="#000"/>
<text transform="translate(2.25 141.45) scale(0.945 1)" text-anchor="start" font-size="21">0.</text>
<path transform="translate(18.80 141.45) scale(0.00969 -0.00986)" d="M797 0H516V1059Q362 915 153 846V1101Q263 1137 392 1237.5Q521 1338 569 1466H797Z" fill="#000"/>
<text transform="translate(29.83 141.45) scale(0.945 1)" text-anchor="start" font-size="21">00</text>
<text transform="translate(2.25 209.90) scale(0.945 1)" text-anchor="start" font-size="21">0.0</text>
<path transform="translate(29.83 209.90) scale(0.00969 -0.00986)" d="M797 0H516V1059Q362 915 153 846V1101Q263 1137 392 1237.5Q521 1338 569 1466H797Z" fill="#000"/>
<text transform="translate(40.87 209.90) scale(0.945 1)" text-anchor="start" font-size="21">0</text>
<text transform="translate(2.25 278.35) scale(0.945 1)" text-anchor="start" font-size="21">0.00</text>
<path transform="translate(40.87 278.35) scale(0.00969 -0.00986)" d="M797 0H516V1059Q362 915 153 846V1101Q263 1137 392 1237.5Q521 1338 569 1466H797Z" fill="#000"/>
<path transform="translate(12.37 346.60) scale(0.00969 -0.00986)" d="M797 0H516V1059Q362 915 153 846V1101Q263 1137 392 1237.5Q521 1338 569 1466H797Z" fill="#000"/>
<text transform="translate(23.41 346.60) scale(0.945 1)" text-anchor="start" font-size="21">0</text>
<text transform="translate(34.44 338.70) scale(0.945 1)" text-anchor="start" font-size="15">−4</text>
<path transform="translate(12.37 415.05) scale(0.00969 -0.00986)" d="M797 0H516V1059Q362 915 153 846V1101Q263 1137 392 1237.5Q521 1338 569 1466H797Z" fill="#000"/>
<text transform="translate(23.41 415.05) scale(0.945 1)" text-anchor="start" font-size="21">0</text>
<text transform="translate(34.44 407.15) scale(0.945 1)" text-anchor="start" font-size="15">−5</text>
<text transform="translate(27.20 28.90) scale(0.985 1)" text-anchor="start" font-size="30">C(T)</text>
<text transform="translate(725.50 455.90) scale(0.93 1)" text-anchor="start" font-size="31">T</text>
<path d="M137.4 338.6 C138.2 333.2 141.6 332.4 144.6 334.9 C147.4 337.2 150.2 337.6 150.9 333.1" fill="none" stroke="#000" stroke-width="3.1" stroke-linecap="butt"/>
<text transform="translate(152.50 340.20) scale(0.93 1)" text-anchor="start" font-size="30">T</text>
<rect x="533.6" y="230.60" width="13.9" height="13.9" fill="#0000ff" stroke="#0000a8" stroke-width="0.6"/>
<text transform="translate(558.60 244.60) scale(0.985 1)" text-anchor="start" font-size="19.8">Z = 6</text>
<rect x="533.6" y="258.90" width="13.9" height="13.9" fill="#800080" stroke="#500050" stroke-width="0.6"/>
<text transform="translate(558.60 272.90) scale(0.985 1)" text-anchor="start" font-size="19.8">Z = 7</text>
<rect x="533.6" y="287.20" width="13.9" height="13.9" fill="#ff0000" stroke="#a80000" stroke-width="0.6"/>
<text transform="translate(558.60 301.20) scale(0.985 1)" text-anchor="start" font-size="19.8">Z = 9</text>
<rect x="533.6" y="315.50" width="13.9" height="13.9" fill="#ff8000" stroke="#a85400" stroke-width="0.6"/>
<text transform="translate(558.60 329.50) scale(0.985 1)" text-anchor="start" font-size="19.8">Z = </text>
<path transform="translate(592.75 329.50) scale(0.00952 -0.00929)" d="M797 0H516V1059Q362 915 153 846V1101Q263 1137 392 1237.5Q521 1338 569 1466H797Z" fill="#000"/>
<text transform="translate(603.59 329.50) scale(0.985 1)" text-anchor="start" font-size="19.8">0</text>
</svg>
</body></html>
